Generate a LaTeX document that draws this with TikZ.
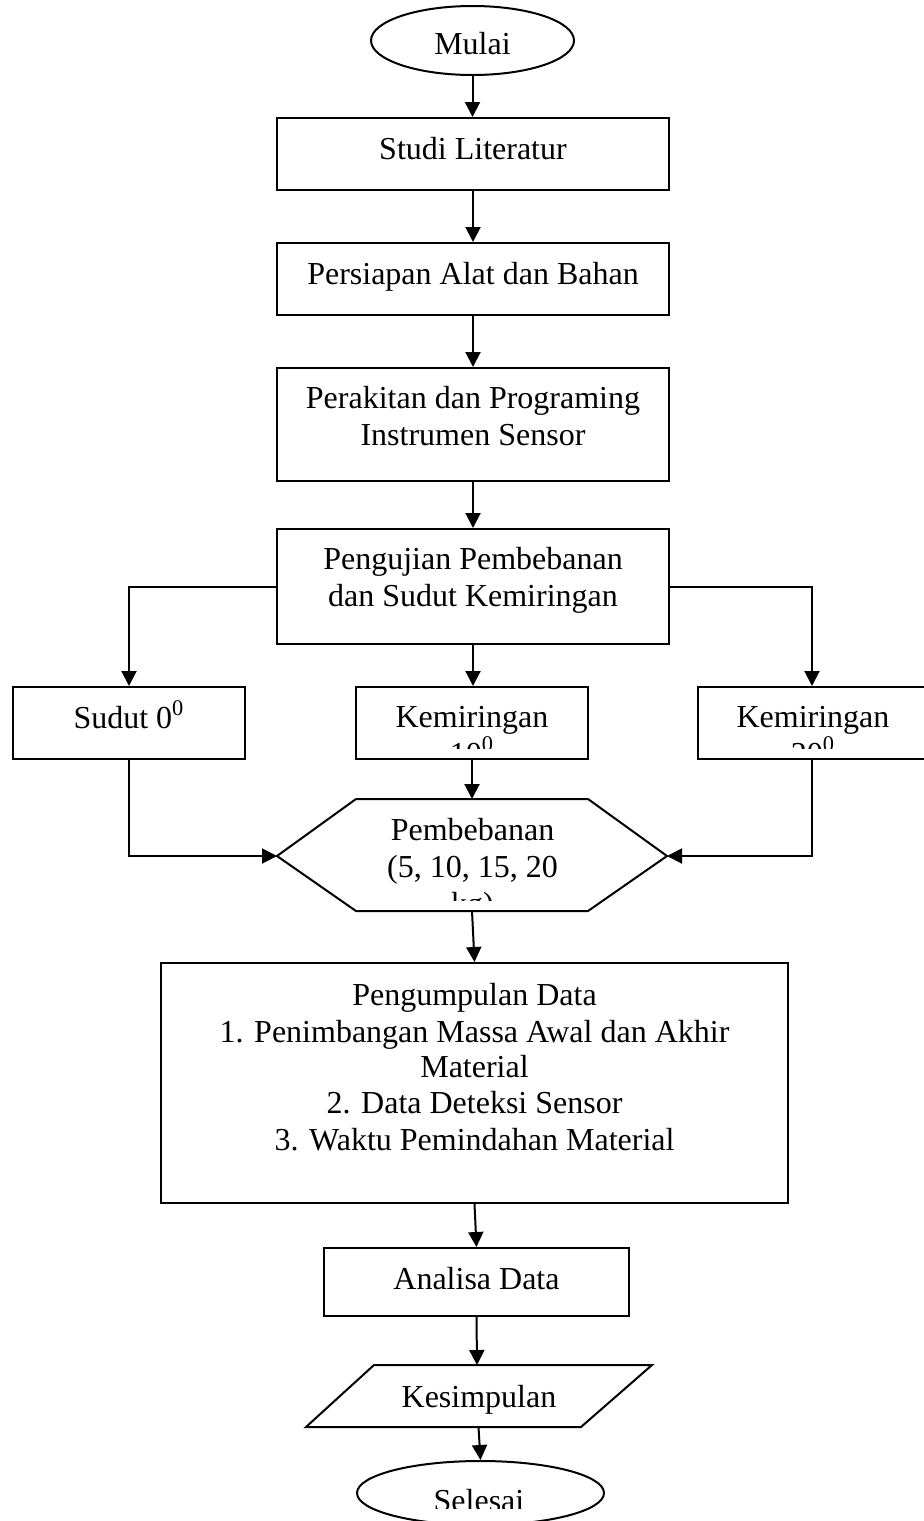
\documentclass[tikz,border=0pt]{standalone}
\usepackage{fontspec}
\setmainfont{Liberation Serif}
\usetikzlibrary{arrows.meta,fit,shapes.geometric}
\begin{document}
\begin{tikzpicture}[x=0.5pt,y=-0.5pt,
  box/.style={draw, line width=1pt, inner sep=0pt},
  oval/.style={draw, ellipse, line width=1pt, inner sep=0pt},
  txt/.style={font=\fontsize{16}{18.5}\selectfont, inner sep=0pt, anchor=base},
  arr/.style={line width=1pt, -{Triangle[length=7.5pt,width=7.5pt]}},
  ln/.style={line width=1pt}]
\useasboundingbox (0,0) rectangle (924,1521);
\clip (0,0) rectangle (924,1521);

% Start
\node[oval, minimum width=101.5pt, minimum height=34.5pt] (mulai) at (472.5,40.5) {};
\node[txt] (mulaiT) at (472.5,54) {Mulai};

% Boxes
\node[box, fit={(277,118) (669,190)}] (studi) {};
\node[txt] (studiT) at (473,159) {Studi Literatur};

\node[box, fit={(277,243) (669,315)}] (persiapan) {};
\node[txt] (persiapanT) at (473,284) {Persiapan Alat dan Bahan};

\node[box, fit={(277,368) (669,481)}] (perakitan) {};
\node[txt] (perakitanT1) at (473,408) {Perakitan dan Programing};
\node[txt] (perakitanT2) at (473,445) {Instrumen Sensor};

\node[box, fit={(277,529) (669,644)}] (pengujian) {};
\node[txt] (pengujianT1) at (473,569) {Pengujian Pembebanan};
\node[txt] (pengujianT2) at (473,606) {dan Sudut Kemiringan};

% Row of three
\node[box, fit={(13,687) (245,759)}] (sudut) {};
\node[txt] (sudutT) at (129,728) {Sudut 0\textsuperscript{0}};

\node[box, fit={(356,687) (588,759)}] (kemA) {};
\begin{scope}
  \clip (356,687) rectangle (588,748);
  \node[txt] (kemAT1) at (472,727) {Kemiringan};
  \node[txt] (kemAT2) at (472,764) {10\textsuperscript{0}};
\end{scope}

\node[box, fit={(698,687) (926,759)}] (kemB) {};
\begin{scope}
  \clip (698,687) rectangle (926,748);
  \node[txt] (kemBT1) at (813,727) {Kemiringan};
  \node[txt] (kemBT2) at (813,764) {20\textsuperscript{0}};
\end{scope}

% Hexagon
\coordinate (hT) at (472,799);
\coordinate (hB) at (472,911);
\coordinate (hL) at (277,856);
\coordinate (hR) at (667,856);
\draw[ln, line join=miter] (356,799) -- (588,799) -- (hR) -- (588,911) -- (356,911) -- (hL) -- cycle;
\begin{scope}
  \clip (277,799) rectangle (667,900);
  \node[txt] (pembT1) at (472.5,840) {Pembebanan};
  \node[txt] (pembT2) at (472.5,877) {(5, 10, 15, 20};
  \node[txt] (pembT3) at (472.5,914) {kg)};
\end{scope}

% Data collection
\node[box, fit={(161,963) (788,1203)}] (pengumpulan) {};
\node[txt] (pgT1) at (474.5,1005) {Pengumpulan Data};
\node[txt] (pgT2) at (474.5,1042) {1. Penimbangan Massa Awal dan Akhir};
\node[txt] (pgT3) at (474.5,1077) {Material};
\node[txt] (pgT4) at (474.5,1113) {2. Data Deteksi Sensor};
\node[txt] (pgT5) at (474.5,1150) {3. Waktu Pemindahan Material};

% Analysis
\node[box, fit={(324,1248) (629,1316)}] (analisa) {};
\node[txt] (analisaT) at (476.5,1289) {Analisa Data};

% Conclusion parallelogram
\coordinate (kesTop) at (477,1365);
\coordinate (kesBot) at (478.5,1427);
\draw[ln, line join=miter] (374,1365) -- (652,1365) -- (581,1427) -- (306,1427) -- cycle;
\node[txt] (kesT) at (479,1407) {Kesimpulan};

% End
\node[oval, minimum width=123.5pt, minimum height=32pt] (selesai) at (480.5,1493) {};
\begin{scope}
  \clip (300,1461) rectangle (660,1508);
  \node[txt] (selesaiT) at (479,1511) {Selesai};
\end{scope}

% Connectors
\draw[arr] (mulai.south) -- (mulai.south |- studi.north);
\draw[arr] (studi.south) -- (persiapan.north);
\draw[arr] (persiapan.south) -- (perakitan.north);
\draw[arr] (perakitan.south) -- (pengujian.north);
\draw[arr] (pengujian.south) -- (pengujian.south |- kemA.north);
\draw[arr] (pengujian.west |- 0,587) -| (sudut.north);
\draw[arr] (pengujian.east |- 0,587) -| (kemB.north);
\draw[arr] (kemA.south -| hT) -- (hT);
\draw[arr] (sudut.south) |- (hL);
\draw[arr] (kemB.south) |- (hR);
\draw[arr] (hB) -- (pengumpulan.north);
\draw[arr] (pengumpulan.south) -- (analisa.north);
\draw[arr] (analisa.south) -- (kesTop);
\draw[arr] (kesBot) -- (selesai.north);
\end{tikzpicture}
\end{document}
